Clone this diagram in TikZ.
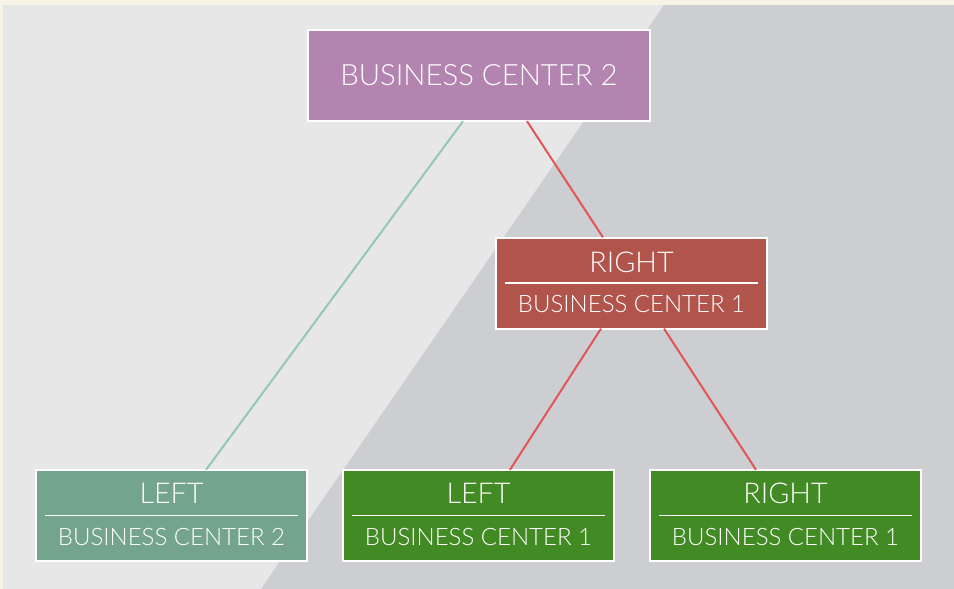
\documentclass[tikz,border=0pt]{standalone}
\usepackage{xcolor}
\usepackage{fontspec}
\setmainfont{Lato Light}

\definecolor{creamBg}{RGB}{247,244,231}
\definecolor{paleGray}{RGB}{231,231,231}
\definecolor{slateGray}{RGB}{205,206,209}
\definecolor{purpleBox}{RGB}{179,132,176}
\definecolor{redBox}{RGB}{176,84,76}
\definecolor{sageBox}{RGB}{116,164,140}
\definecolor{greenBox}{RGB}{66,138,36}
\definecolor{tealLine}{RGB}{148,199,186}
\definecolor{redLine}{RGB}{224,85,90}

\tikzset{
  box/.style={draw=white, line width=1.5pt, minimum width=203.25pt, minimum height=68.25pt, inner sep=0pt},
  topbox/.style={box, minimum width=256.5pt, text=white, font=\fontsize{22}{26}\selectfont},
  headtext/.style={text=white, inner sep=0pt, font=\fontsize{21.5}{25}\selectfont},
  subtext/.style={text=white, inner sep=0pt, font=\fontsize{18}{21}\selectfont},
  rule/.style={draw=white, line width=1pt},
  link/.style={line width=1.5pt}
}

\begin{document}
\begin{tikzpicture}[x=0.75pt,y=0.75pt,yscale=-1,xscale=1]
\useasboundingbox (0,0) rectangle (954,589);

%Shape: Background
\fill [creamBg] (0,0) rectangle (954,589);
\fill [paleGray] (3,5) rectangle (954,589);
\fill [slateGray] (664,5) -- (954,5) -- (954,589) -- (261,589) -- cycle;

%Shape: Rectangle
\node [topbox, fill=purpleBox] (bc2) at (479,75.5) {BUSINESS CENTER 2};
%Shape: Rectangle
\node [box, fill=redBox] (rbc1) at (631.5,283) {};
%Shape: Rectangle
\node [box, fill=sageBox] (lbc2) at (171.5,515.5) {};
%Shape: Rectangle
\node [box, fill=greenBox] (lbc1) at (478.5,515.5) {};
%Shape: Rectangle
\node [box, fill=greenBox] (rbcone) at (785.5,515.5) {};

% Rules
\draw [rule] ([xshift=7.5pt]rbc1.west) -- ([xshift=-7.5pt]rbc1.east);
\draw [rule] ([xshift=7.5pt]lbc2.west) -- ([xshift=-7.5pt]lbc2.east);
\draw [rule] ([xshift=7.5pt]lbc1.west) -- ([xshift=-7.5pt]lbc1.east);
\draw [rule] ([xshift=7.5pt]rbcone.west) -- ([xshift=-7.5pt]rbcone.east);

% Text Node
\node [headtext] (rbc1head) at (631.5,262) {RIGHT};
\node [subtext] (rbc1sub) at (631.5,304) {BUSINESS CENTER 1};
% Text Node
\node [headtext] (lbc2head) at (171.5,493) {LEFT};
\node [subtext] (lbc2sub) at (171.5,537) {BUSINESS CENTER 2};
% Text Node
\node [headtext] (lbc1head) at (478.5,493) {LEFT};
\node [subtext] (lbc1sub) at (478.5,537) {BUSINESS CENTER 1};
% Text Node
\node [headtext] (rbconehead) at (785.5,493) {RIGHT};
\node [subtext] (rbconesub) at (785.5,537) {BUSINESS CENTER 1};

%Straight Lines
\draw [link, tealLine] ([xshift=-12pt,yshift=-0.6pt]bc2.south) -- ([xshift=25.9pt,yshift=0.6pt]lbc2.north);
\draw [link, redLine] ([xshift=36pt,yshift=-0.6pt]bc2.south) -- ([xshift=-21.4pt,yshift=0.6pt]rbc1.north);
\draw [link, redLine] ([xshift=-22.9pt,yshift=-0.6pt]rbc1.south) -- ([xshift=23.6pt,yshift=0.6pt]lbc1.north);
\draw [link, redLine] ([xshift=24.4pt,yshift=-0.6pt]rbc1.south) -- ([xshift=-22.1pt,yshift=0.6pt]rbcone.north);

\end{tikzpicture}
\end{document}
